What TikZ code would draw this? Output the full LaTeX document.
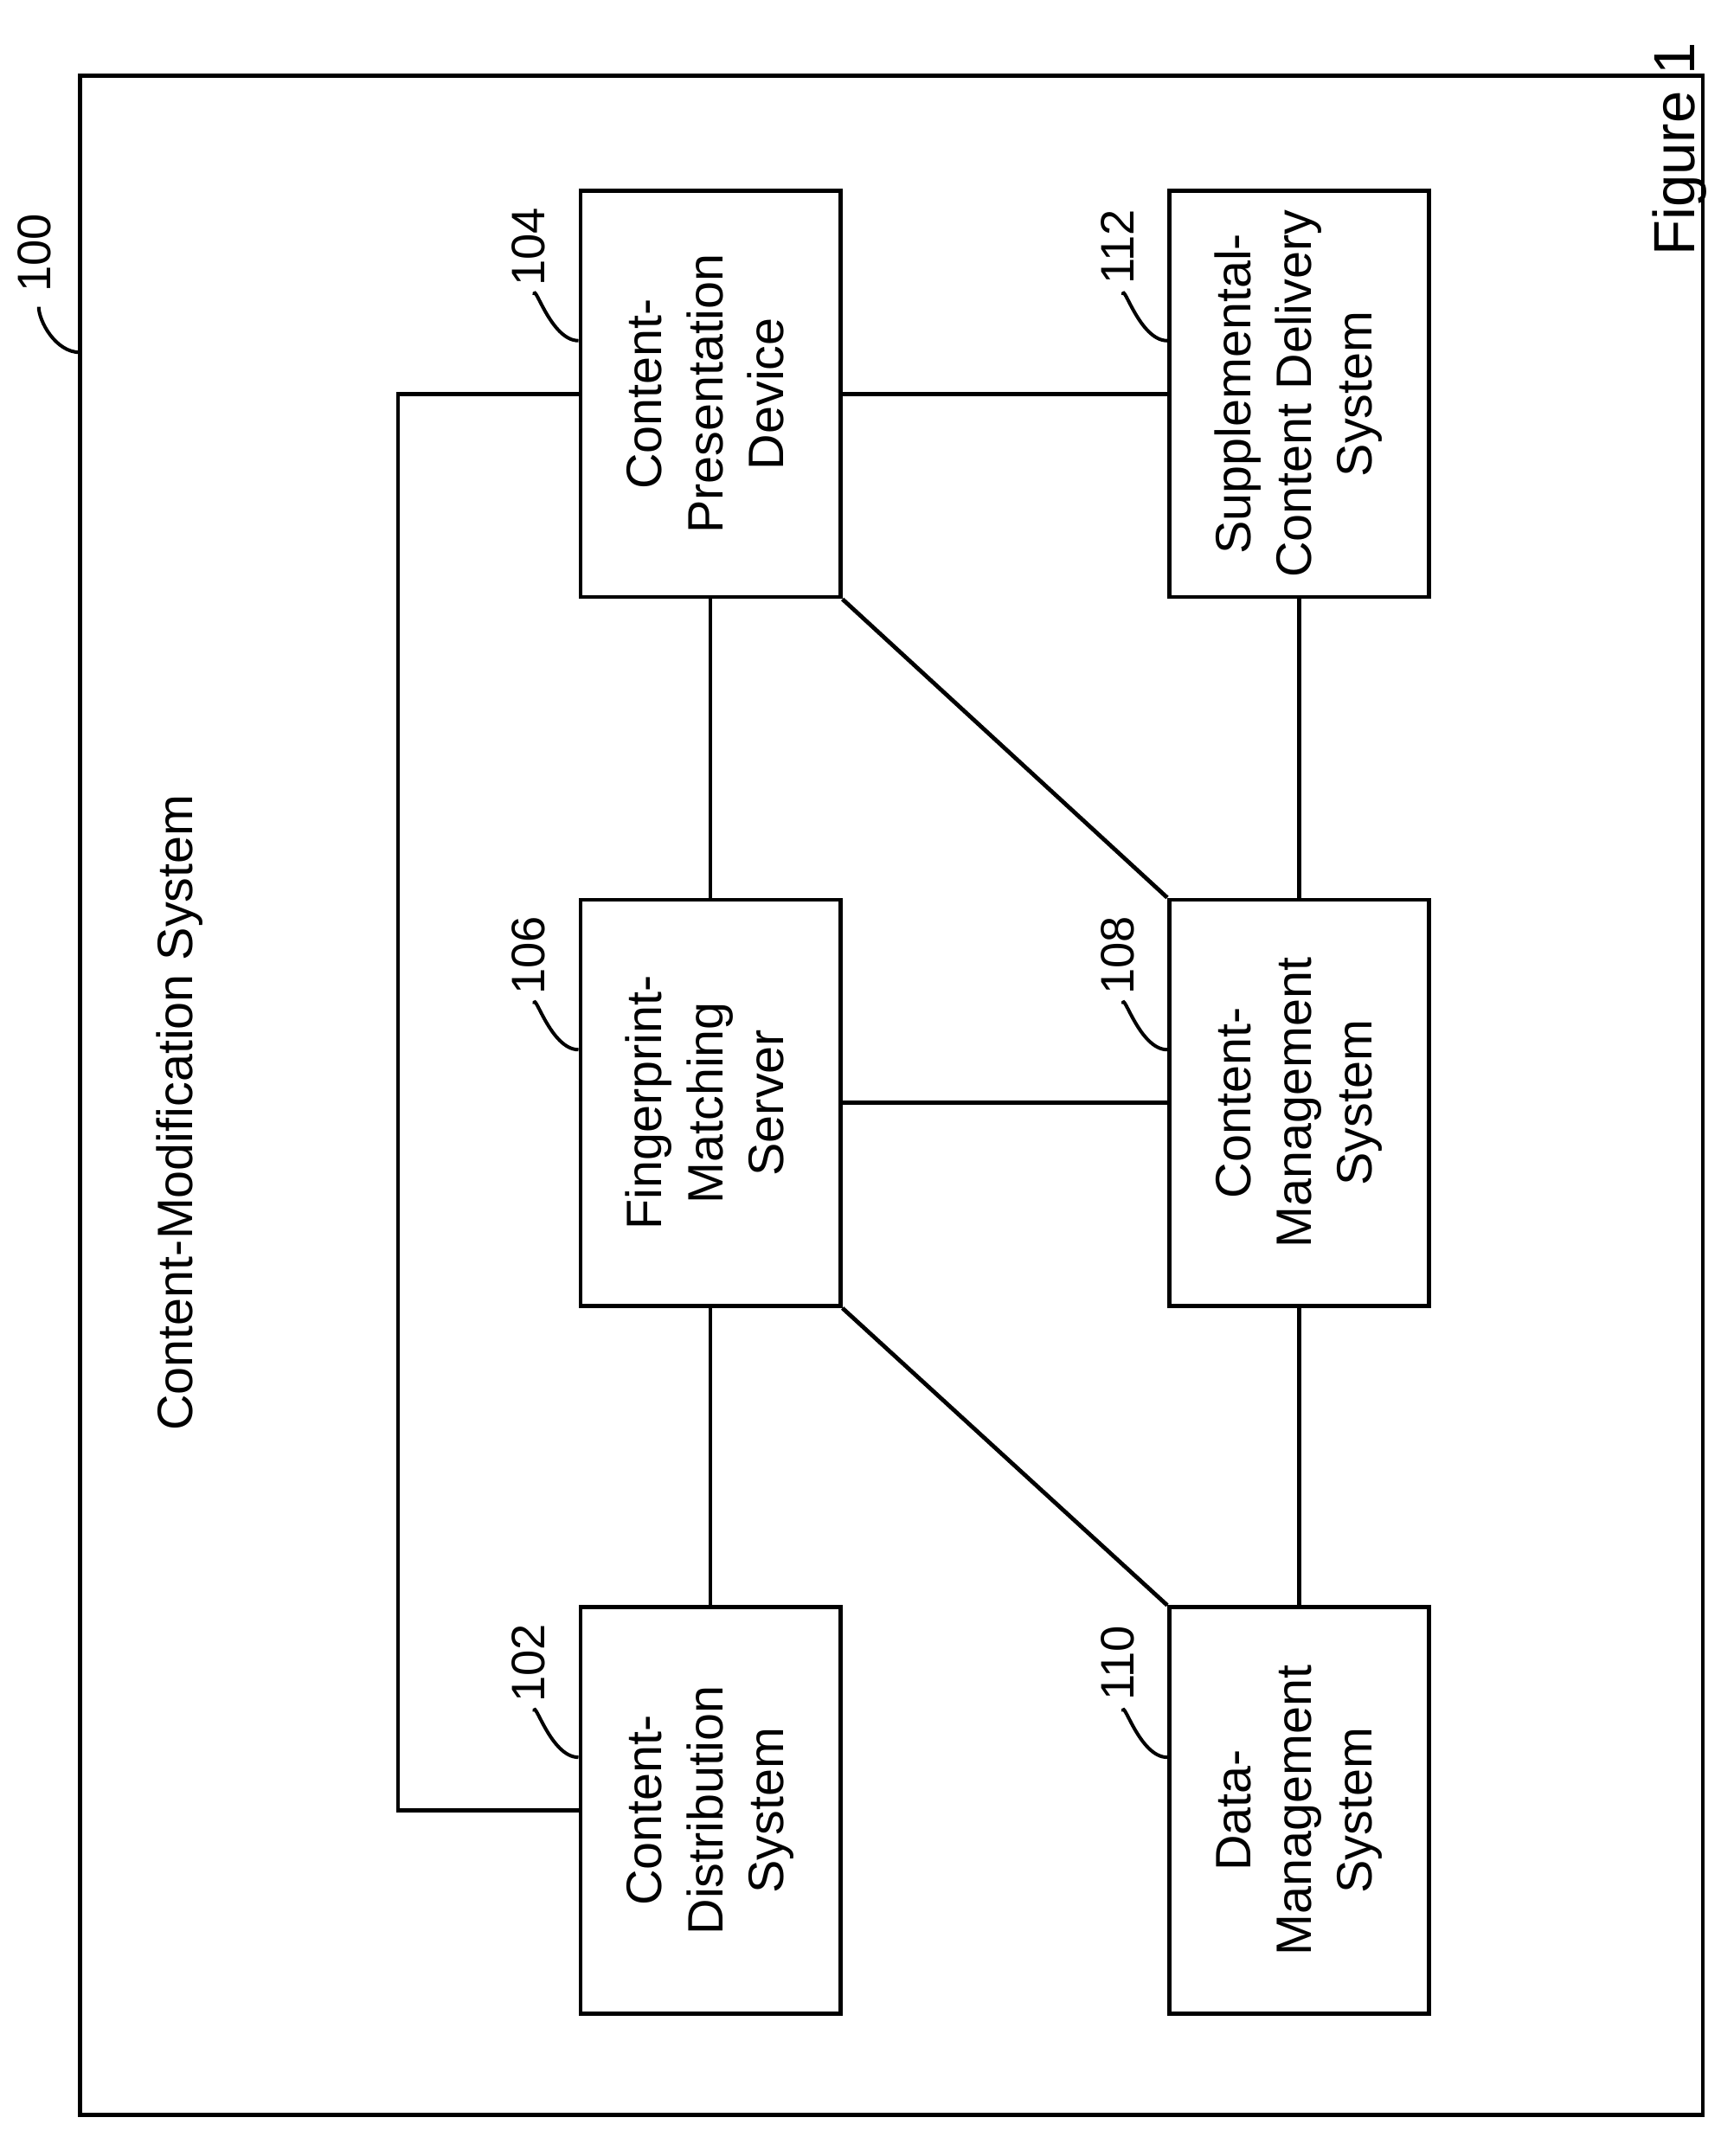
\documentclass[tikz,border=0pt]{standalone}
\usepackage{fontspec}
\setmainfont{Liberation Sans}
\begin{document}
\begin{tikzpicture}[x=1pt,y=-1pt,line width=3pt,
  box/.style={draw,rectangle,minimum width=188pt,minimum height=294pt,inner sep=0pt,font=\fontsize{36}{44}\selectfont},
  num/.style={font=\fontsize{34}{40}\selectfont,rotate=90,inner sep=0pt},
  lead/.style={line width=2.5pt}]
\useasboundingbox (0,0) rectangle (1245,1560);
\draw (58,55) rectangle (1232,1530);
\node[num,font=\fontsize{42}{48}\selectfont] (fig) at (1215,108) {Figure 1};
\node[rotate=90,font=\fontsize{36}{44}\selectfont] (title) at (130,805) {Content-Modification System};
\newcommand{\rb}[1]{\rotatebox{90}{\begin{tabular}{c}#1\end{tabular}}}
\node[box] (b104) at (514,285) {\rb{Content-\\Presentation\\Device}};
\node[box] (b112) at (940,285) {\rb{Supplemental-\\Content Delivery\\System}};
\node[box] (b106) at (514,798) {\rb{Fingerprint-\\Matching\\Server}};
\node[box] (b108) at (940,798) {\rb{Content-\\Management\\System}};
\node[box] (b102) at (514,1310) {\rb{Content-\\Distribution\\System}};
\node[box] (b110) at (940,1310) {\rb{Data-\\Management\\System}};
% connectors
\coordinate (c1) at (288,285);
\coordinate (c2) at (288,1310);
\draw (b104.west) -- (c1) -- (c2) -- (b102.west);
\draw (b104.east) -- (b112.west);
\draw (b104.south) -- (b106.north);
\draw (b104.south east) -- (b108.north west);
\draw (b112.south) -- (b108.north);
\draw (b106.east) -- (b108.west);
\draw (b106.south) -- (b102.north);
\draw (b106.south east) -- (b110.north west);
\draw (b108.south) -- (b110.north);
% reference numerals
\foreach \b/\n in {b104/104,b112/112,b106/106,b108/108,b102/102,b110/110}{
  \coordinate (s\n) at ([yshift=-110pt]\b.north west);
  \coordinate (e\n) at ([xshift=-32pt,yshift=-77pt]\b.north west);
  \draw[lead] (s\n) .. controls ([xshift=-20pt]s\n) and ([yshift=10pt]e\n) .. (e\n);
  \node[num] (n\n) at ([xshift=-36pt,yshift=-42pt]\b.north west) {\n};
}
\coordinate (s100) at (58,255);
\coordinate (e100) at (28,222);
\draw[lead] (s100) .. controls (40,255) and (28,232) .. (e100);
\node[num] (n100) at (25,183) {100};
\end{tikzpicture}
\end{document}
